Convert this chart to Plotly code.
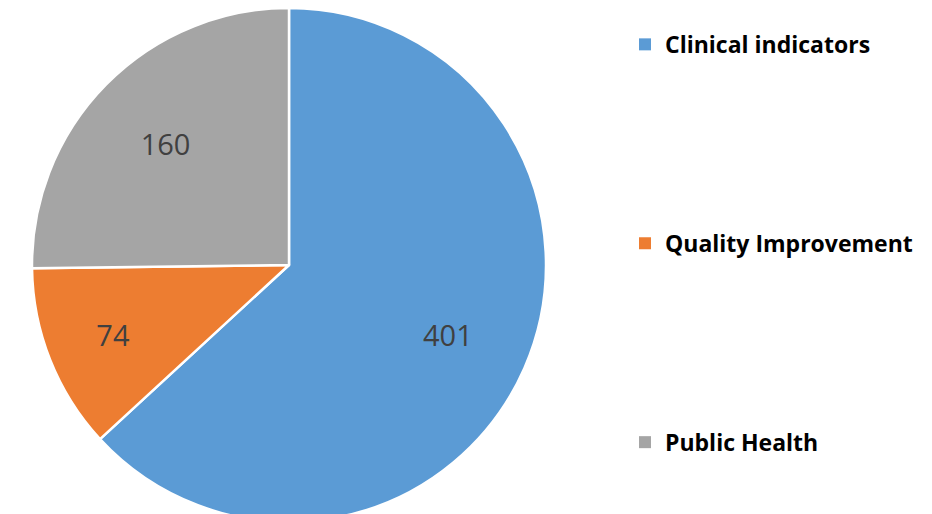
import plotly.graph_objects as go

categories = ["Clinical indicators", "Quality Improvement", "Public Health"]
values = [401, 74, 160]
colors = ["#5B9BD5", "#ED7D31", "#A5A5A5"]

W, H = 932, 514
cx, r = 281, 257
dom = dict(x=[(cx - r) / W, (cx + r) / W], y=[0, 1])

fig = go.Figure()
# full pie (fill + white separators)
fig.add_trace(go.Pie(
    labels=categories, values=values, sort=False, direction="clockwise", rotation=0,
    marker=dict(colors=colors, line=dict(color="white", width=2.5)),
    textinfo="none", showlegend=False, hoverinfo="label+value", domain=dom,
))
# transparent ring on top that only carries the value labels, placing them further out
fig.add_trace(go.Pie(
    labels=categories, values=values, sort=False, direction="clockwise", rotation=0,
    hole=0.35,
    marker=dict(colors=["rgba(0,0,0,0)"] * len(values), line=dict(width=0)),
    textinfo="value", textposition="inside", insidetextorientation="horizontal",
    textfont=dict(size=29, color="#404040", family="Open Sans"),
    showlegend=False, hoverinfo="skip", domain=dom,
))
for i, (c, col) in enumerate(zip(categories, colors)):
    fig.add_trace(go.Scatter(
        x=[None], y=[None], mode="markers", name=c, legendgroup=f"g{i}",
        marker=dict(symbol="square", size=12, color=col),
    ))

fig.update_layout(
    width=W, height=H, margin=dict(l=0, r=0, t=0, b=0),
    paper_bgcolor="white", plot_bgcolor="white",
    xaxis=dict(visible=False), yaxis=dict(visible=False),
    legend=dict(x=617 / W, y=0.971, xanchor="left", yanchor="top",
                tracegroupgap=166, itemsizing="constant",
                font=dict(size=23, color="#000000", family="Open Sans", weight="bold"),
                bgcolor="rgba(0,0,0,0)"),
)
fig.write_html("out.html")
